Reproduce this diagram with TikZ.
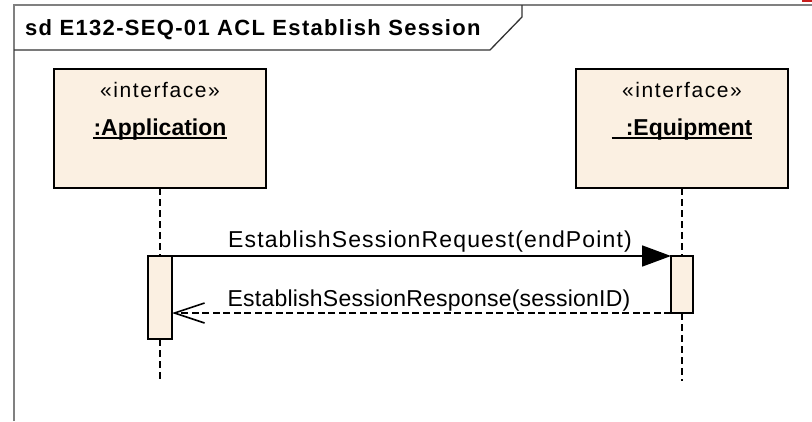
\documentclass[tikz,border=0pt]{standalone}
\usepackage{fontspec}
\setmainfont{Liberation Sans}
\newfontfamily\titlefont[LetterSpace=6]{Liberation Sans}
\newfontfamily\stereofont[LetterSpace=7.5]{Liberation Sans}
\newfontfamily\msgfonta[LetterSpace=5]{Liberation Sans}
\newfontfamily\msgfontb[LetterSpace=1]{Liberation Sans}
\usetikzlibrary{arrows.meta}
\definecolor{boxfill}{RGB}{251,240,226}
\definecolor{framegray}{RGB}{128,128,128}
\definecolor{markred}{RGB}{200,30,30}
\tikzset{
  frameline/.style={draw=framegray, line width=1.6pt},
  tabline/.style={draw=black!80, line width=1.3pt},
  classbox/.style={draw=black, line width=1.8pt, fill=boxfill, minimum width=212pt, minimum height=119pt, inner sep=0pt, outer sep=0pt},
  actbox/.style={draw=black, line width=1.8pt, fill=boxfill, inner sep=0pt, outer sep=0pt},
  stereo/.style={inner sep=0pt, font=\stereofont\fontsize{21}{25}\selectfont, anchor=base},
  objname/.style={inner sep=0pt, font=\bfseries\fontsize{23}{27}\selectfont, anchor=base},
  ulinestyle/.style={draw=black, line width=1.8pt},
  lifeline/.style={draw=black, line width=2pt, dash pattern=on 7pt off 4pt},
  callmsg/.style={draw=black, line width=1.8pt, -{Triangle[length=29pt,width=21pt]}},
  retmsg/.style={draw=black, line width=1.6pt, dash pattern=on 7pt off 3.5pt, -{Straight Barb[length=30pt,width=20pt]}},
  msgtext/.style={inner sep=0pt, anchor=base}
}
\begin{document}
\begin{tikzpicture}[x=1pt,y=-1pt]
\useasboundingbox (0,0) rectangle (812,421);
% frame
\draw[frameline] (14,421) -- (14,5) -- (812,5);
\draw[tabline] (14,50) -- (490,50) -- (522,17) -- (522,5);
\fill[markred] (802,0) rectangle (812,2);
\node[inner sep=0pt, anchor=base west, font=\titlefont\bfseries\fontsize{22}{26}\selectfont] (title) at (25,35.5) {sd E132-SEQ-01 ACL Establish Session};
% lifeline heads
\node[classbox] (app) at (160,128.5) {};
\node[classbox] (eq) at (682,128.5) {};
\node[stereo] (appst) at (160,97) {«interface»};
\node[stereo] (eqst) at (682,97) {«interface»};
\node[objname] (appname) at (160,135) {:Application};
\node[objname] (eqname) at (682,135) {\hspace*{14pt}:Equipment};
\draw[ulinestyle] ([yshift=-3pt]appname.base west) -- ([yshift=-3pt]appname.base east);
\draw[ulinestyle] ([yshift=-3pt]eqname.base west) -- ([yshift=-3pt]eqname.base east);
% activations
\node[actbox, minimum width=24pt, minimum height=83pt] (leftact) at (160,297.5) {};
\node[actbox, minimum width=22pt, minimum height=57pt] (rightact) at (682,284.5) {};
% lifelines
\coordinate (append) at (160,381);
\coordinate (eqend) at (682,381);
\draw[lifeline] (app.south) -- (leftact.north);
\draw[lifeline] (leftact.south) -- (append);
\draw[lifeline] (eq.south) -- (rightact.north);
\draw[lifeline] (rightact.south) -- (eqend);
% messages
\draw[callmsg] (leftact.north east) -- (rightact.north west);
\draw[retmsg] (rightact.south west) -- (rightact.south west -| leftact.east);
\node[msgtext, font=\msgfonta\fontsize{23}{27}\selectfont] (m1) at (430,247) {EstablishSessionRequest(endPoint)};
\node[msgtext, font=\msgfontb\fontsize{23}{27}\selectfont] (m2) at (429,306) {EstablishSessionResponse(sessionID)};
\end{tikzpicture}
\end{document}
